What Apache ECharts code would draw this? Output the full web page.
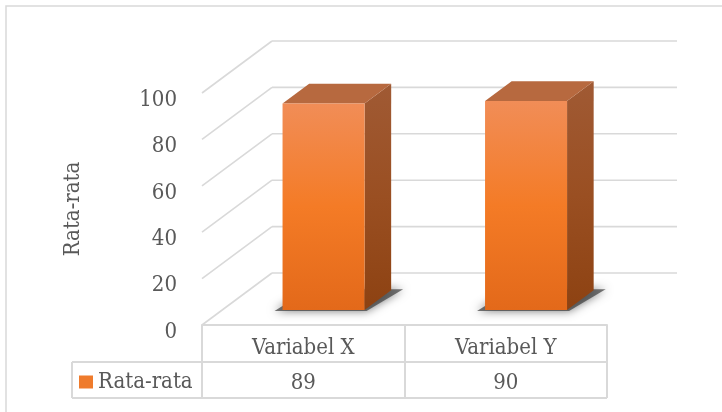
<!DOCTYPE html>
<html>
<head>
<meta charset="utf-8">
<script src="https://cdn.jsdelivr.net/npm/echarts@6/dist/echarts.min.js"></script>
<style>
html,body{margin:0;padding:0;background:#fff;}
#chart{width:722px;height:412px;}
</style>
</head>
<body>
<div id="chart"></div>
<script>
const categories = ['Variabel X', 'Variabel Y'];
const values = [89, 90];
const seriesName = 'Rata-rata';
const yAxisTitle = 'Rata-rata';
const yTicks = [0, 20, 40, 60, 80, 100];

const FONT = "'DejaVu Serif Condensed', 'DejaVu Serif', serif";
const FS = 22;
const TXT = '#595959';
const LINE = '#d9d9d9';
// oblique depth of the floor / walls
const DX = 70, DY = -52;
// bar depth placement (front and back fractions of the floor depth)
const F0 = 0.29, F1 = 0.67;

const chart = echarts.init(document.getElementById('chart'), null, {renderer: 'canvas'});

function wallItem(params, api) {
  const cs = params.coordSys;
  const p = api.coord([0, api.value(1)]);
  const y = p[1];
  return {
    type: 'group',
    silent: true,
    children: [
      {type: 'line', shape: {x1: cs.x, y1: y, x2: cs.x + DX, y2: y + DY},
       style: {stroke: LINE, lineWidth: 1.6}},
      {type: 'line', shape: {x1: cs.x + DX, y1: y + DY, x2: cs.x + cs.width + DX, y2: y + DY},
       style: {stroke: LINE, lineWidth: 1.6}}
    ]
  };
}

function barItem(params, api) {
  const idx = api.value(0);
  const val = api.value(1);
  const base = api.coord([idx, 0]);
  const top = api.coord([idx, val]);
  const bw = api.size([1, 0])[0] * 0.405;
  const fx = DX * F0, fy = DY * F0, bx = DX * F1, by = DY * F1;
  const xl = base[0] - bw / 2, xr = base[0] + bw / 2;
  const yb = base[1], yt = top[1];
  const children = [];
  // floor shadow
  children.push({
    type: 'polygon',
    shape: {points: [
      [xl + fx - 8, yb + fy + 1], [xr + fx + 2, yb + fy + 1],
      [xr + bx + 12, yb + by - 1], [xl + bx, yb + by - 1]
    ]},
    style: {fill: 'rgba(60,60,60,0.7)', shadowBlur: 10, shadowColor: 'rgba(0,0,0,0.75)'}
  });
  // side face
  children.push({
    type: 'polygon',
    shape: {points: [[xr + fx, yt + fy], [xr + bx, yt + by], [xr + bx, yb + by], [xr + fx, yb + fy]]},
    style: {fill: new echarts.graphic.LinearGradient(0, 0, 0, 1, [
      {offset: 0, color: '#a05a34'}, {offset: 0.5, color: '#9a4f22'}, {offset: 1, color: '#8d4212'}
    ])}
  });
  // top face
  children.push({
    type: 'polygon',
    shape: {points: [[xl + fx, yt + fy], [xl + bx, yt + by], [xr + bx, yt + by], [xr + fx, yt + fy]]},
    style: {fill: '#b7693f'}
  });
  // front face
  children.push({
    type: 'rect',
    shape: {x: xl + fx, y: yt + fy, width: bw, height: yb - yt},
    style: {fill: new echarts.graphic.LinearGradient(0, 0, 0, 1, [
      {offset: 0, color: '#f18d57'}, {offset: 0.5, color: '#f47b26'}, {offset: 1, color: '#e3691a'}
    ])}
  });
  // data table value
  children.push({
    type: 'text',
    x: base[0], y: yb + 58,
    style: {text: String(val), fill: TXT, font: FS + 'px ' + FONT, align: 'center', verticalAlign: 'middle'}
  });
  return {type: 'group', children: children};
}

const option = {
  animation: false,
  grid: {left: 202, right: 115, top: 93, bottom: 87},
  legend: {
    data: [{name: seriesName, itemStyle: {color: '#ef7b2c'}}],
    left: 79, top: 371, padding: 0, icon: 'rect', itemWidth: 14, itemHeight: 13,
    textStyle: {fontSize: FS, color: TXT, fontFamily: FONT}
  },
  xAxis: {
    type: 'category', data: categories, boundaryGap: true,
    axisLine: {show: true, lineStyle: {color: LINE, width: 2}},
    axisTick: {show: true, interval: 0, length: 73, lineStyle: {color: LINE, width: 2}},
    axisLabel: {fontSize: FS, color: TXT, fontFamily: FONT, margin: 12},
    splitLine: {show: false}
  },
  yAxis: {
    type: 'value', min: 0, max: 100, interval: 20,
    axisLine: {show: false}, axisTick: {show: false}, splitLine: {show: false},
    axisLabel: {fontSize: FS, color: TXT, fontFamily: FONT, margin: 25, verticalAlign: 'top', lineHeight: 14},
    name: yAxisTitle, nameLocation: 'middle', nameRotate: 90, nameGap: 118,
    nameTextStyle: {fontSize: FS, color: TXT, fontFamily: FONT}
  },
  graphic: [
    {type: 'rect', shape: {x: 6, y: 6, width: 800, height: 500}, style: {fill: 'none', stroke: LINE, lineWidth: 1.5}, silent: true},
    {type: 'line', shape: {x1: 72, y1: 362, x2: 607, y2: 362}, style: {stroke: LINE, lineWidth: 2}, silent: true},
    {type: 'line', shape: {x1: 72, y1: 398, x2: 607, y2: 398}, style: {stroke: LINE, lineWidth: 2}, silent: true},
    {type: 'line', shape: {x1: 72, y1: 362, x2: 72, y2: 398}, style: {stroke: LINE, lineWidth: 2}, silent: true}
  ],
  series: [
    {
      type: 'custom', name: 'walls', silent: true, z: 1,
      renderItem: wallItem,
      data: yTicks.map(v => [0, v]),
      encode: {x: 0, y: 1}
    },
    {
      type: 'custom', name: seriesName, z: 3,
      itemStyle: {color: '#ef7b2c'},
      renderItem: barItem,
      data: values.map((v, i) => [i, v]),
      encode: {x: 0, y: 1}
    }
  ]
};
chart.setOption(option);
</script>
</body>
</html>
